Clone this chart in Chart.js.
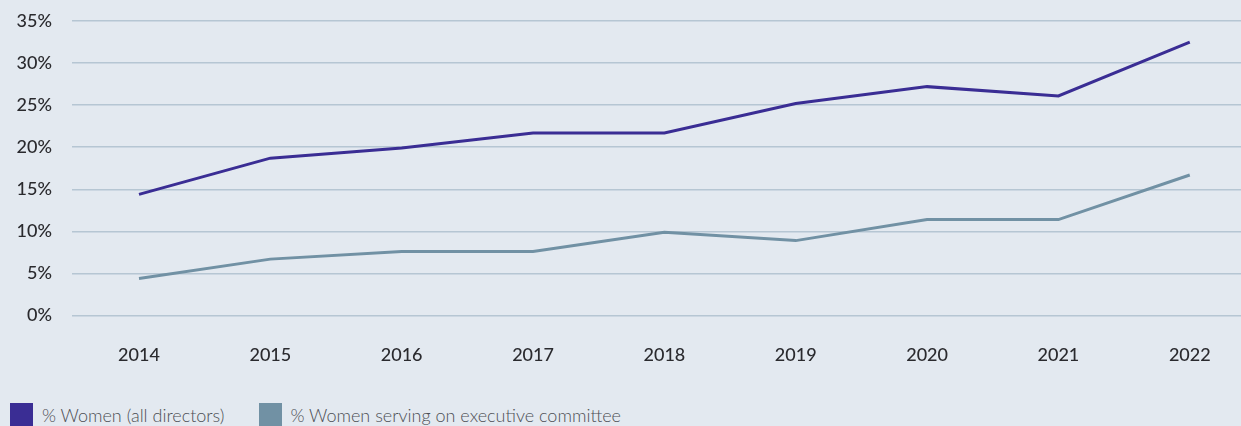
<!DOCTYPE html>
<html>
<head>
<meta charset="utf-8">
<script src="https://cdn.jsdelivr.net/npm/chart.js@4"></script>
<style>
  html, body { margin: 0; padding: 0; background: #e3e9f0; }
  #wrap { position: relative; width: 1241px; height: 426px; overflow: hidden; }
  #chart-box { position: absolute; left: 0; top: 0; width: 1241px; height: 380px; }
  #legend { position: absolute; left: 10px; top: 403px; display: flex; align-items: center;
            font-family: Lato, "Open Sans", sans-serif; font-weight: 300; font-size: 18px; color: #4d4f55; }
  .item { display: flex; align-items: center; margin-right: 34px; height: 23px; }
  .swatch { width: 23px; height: 23px; margin-right: 9px; }
</style>
</head>
<body>
<div id="wrap">
  <div id="chart-box"><canvas id="c"></canvas></div>
  <div id="legend"></div>
</div>
<script>
// Share of women on boards, by year
const years = [2014, 2015, 2016, 2017, 2018, 2019, 2020, 2021, 2022];
const allDirectors = [14.4, 18.7, 19.9, 21.7, 21.7, 25.2, 27.2, 26.1, 32.5];
const execCommittee = [4.4, 6.7, 7.6, 7.6, 9.9, 8.9, 11.4, 11.4, 16.7];
const seriesNames = ['% Women (all directors)', '% Women serving on executive committee'];
const seriesColors = ['#3a2d94', '#7191a4'];
const yTicks = [0, 5, 10, 15, 20, 25, 30, 35];

const toPoints = vals => vals.map((v, i) => ({ x: years[i], y: v }));

const datasets = [allDirectors, execCommittee].map((vals, i) => ({
  label: seriesNames[i],
  data: toPoints(vals),
  borderColor: seriesColors[i],
  backgroundColor: seriesColors[i],
  borderWidth: 3,
  pointRadius: 0,
  tension: 0,
  fill: false
}));

const tickFont = { family: 'Lato, "Open Sans", sans-serif', size: 18, weight: '500' };

new Chart(document.getElementById('c'), {
  type: 'line',
  data: { datasets },
  options: {
    responsive: true,
    maintainAspectRatio: false,
    animation: false,
    layout: { padding: { top: 21, left: 0, right: 0, bottom: 0 } },
    plugins: { legend: { display: false }, tooltip: { enabled: false } },
    scales: {
      x: {
        type: 'linear',
        min: 2013.49,
        max: 2022.39,
        grid: { display: false, drawTicks: false },
        border: { display: false },
        afterBuildTicks: s => { s.ticks = years.map(v => ({ value: v })); },
        afterFit: s => { s.height = 64.5; },
        ticks: {
          padding: 29,
          color: '#2a2a2e',
          font: tickFont,
          callback: v => String(v)
        }
      },
      y: {
        min: 0,
        max: 35,
        afterBuildTicks: s => { s.ticks = yTicks.map(v => ({ value: v })); },
        // fixed axis width; top label may sit in the layout padding
        afterFit: s => { s.width = 72; s.paddingTop = 0; s.paddingBottom = 0; },
        grid: { color: '#b6c6d3', lineWidth: 1.5, drawTicks: false },
        border: { display: false },
        ticks: {
          padding: 20,
          color: '#2a2a2e',
          font: tickFont,
          callback: v => v + '%'
        }
      }
    }
  }
});

// Legend row built from the same series names and colours
const legend = document.getElementById('legend');
seriesNames.forEach((name, i) => {
  const item = document.createElement('div');
  item.className = 'item';
  const sw = document.createElement('span');
  sw.className = 'swatch';
  sw.style.background = seriesColors[i];
  const txt = document.createElement('span');
  txt.textContent = name;
  item.appendChild(sw);
  item.appendChild(txt);
  legend.appendChild(item);
});
</script>
</body>
</html>
